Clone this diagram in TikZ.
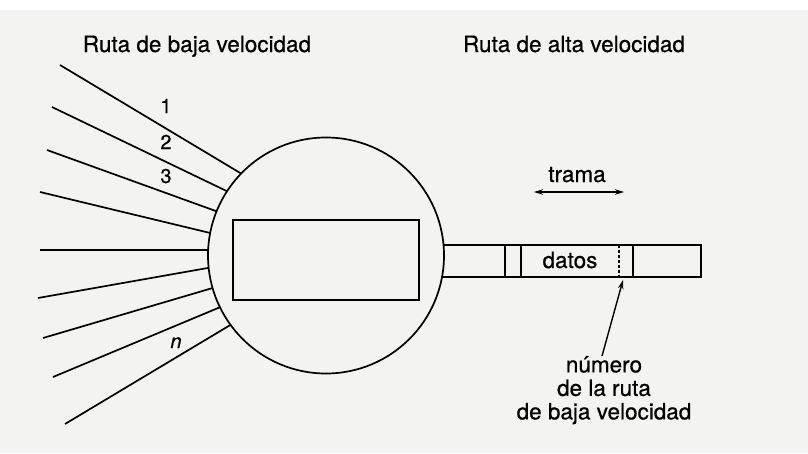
\documentclass[tikz,border=0pt]{standalone}
\usepackage{fontspec}
\setmainfont{TeX Gyre Heros}[FakeBold=0.6]
\usetikzlibrary{arrows.meta}
\definecolor{paper}{RGB}{243,243,242}
\tikzset{
    line cap=round,line join=round,
    every node/.style={inner sep=0pt, outer sep=0pt},
    big text/.style={font=\fontsize{22.5}{23.5}\selectfont},
    tag text/.style={font=\fontsize{20}{22}\selectfont},
    hub/.style={circle, draw, line width=1.7pt, minimum size=236pt},
    mux/.style={rectangle, draw, line width=2.5pt, minimum width=186pt, minimum height=80pt},
    route/.style={line width=1.7pt},
    frame/.style={line width=1.5pt},
    pointer/.style={line width=1.4pt, -{Stealth[length=9pt,width=5.5pt]}},
}

\begin{document}
\begin{tikzpicture}[x=1pt,y=-1pt]
    \fill[paper] (0,10) rectangle (808,453);
    \useasboundingbox (0,0) rectangle (808,453);

    \node[hub] (hub) at (326,255.5) {};
    \node[mux] (mux) at (326,260) {};

    \node[big text, anchor=base] (slowtitle) at (197,52) {Ruta de baja velocidad};
    \node[big text, anchor=base] (fasttitle) at (574,52) {Ruta de alta velocidad};

    % low speed routes
    \coordinate (s1) at (60,65);
    \coordinate (s2) at (52,107);
    \coordinate (s3) at (47,150);
    \coordinate (s4) at (40,192);
    \coordinate (s5) at (40,250);
    \coordinate (s6) at (38,298);
    \coordinate (s7) at (43,338);
    \coordinate (s8) at (53,377);
    \coordinate (s9) at (65,424);
    \draw[route] (s1) -- (hub.136);
    \draw[route] (s2) -- (hub.147);
    \draw[route] (s3) -- (hub.158);
    \draw[route] (s4) -- (hub.169);
    \draw[route, line width=2.5pt] (s5) -- (hub.west |- s5);
    \draw[route] (s6) -- (hub.186);
    \draw[route] (s7) -- (hub.196);
    \draw[route] (s8) -- (hub.206);
    \draw[route] (s9) -- (hub.216);

    \node[tag text, anchor=base] (one) at (166,113) {1};
    \node[tag text, anchor=base] (two) at (166,149) {2};
    \node[tag text, anchor=base] (three) at (166,183) {3};
    \node[tag text, anchor=base] (enn) at (176,348) {\textit{n}};

    % high speed frame
    \coordinate (fne) at (701,245);
    \coordinate (fse) at (701,277);
    \draw[frame] (hub.5 |- fne) -- (fne) -- (fse) -- (hub.350 |- fse);
    \foreach \x in {505,521,633}
        \draw[frame] (\x,245) -- (\x,277);
    \draw[frame, densely dashed] (619,245) -- (619,277);
    \node[big text, anchor=base] (data) at (570,268) {datos};

    \node[big text, anchor=base] (trama) at (577,182) {trama};
    \coordinate (tl) at (534,192);
    \coordinate (tr) at (624,192);
    \draw[line width=1.4pt, {Stealth[length=9pt,width=5.5pt]}-{Stealth[length=9pt,width=5.5pt]}] (tl) -- (tr);

    \node[big text, align=center, anchor=north] (note) at (604,356)
        {número\\de la ruta\\de baja velocidad};
    \coordinate (notetip) at (623,280);
    \draw[pointer] (note.north -| 602,0) -- (notetip);
\end{tikzpicture}
\end{document}
